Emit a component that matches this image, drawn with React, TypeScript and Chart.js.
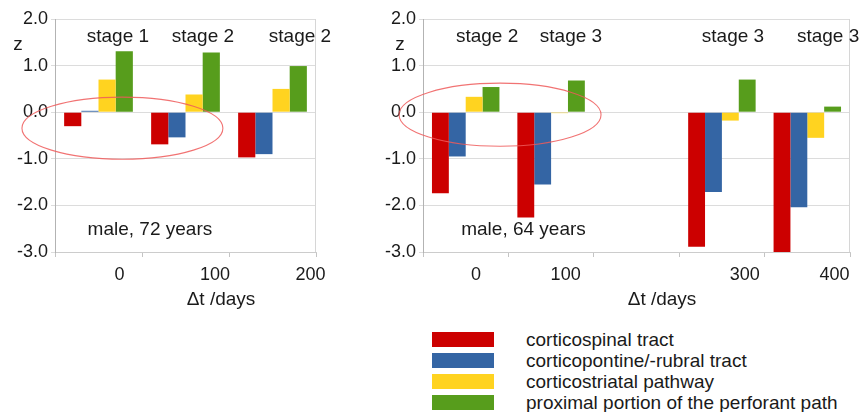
import React, { useEffect, useRef } from "react";
import { Chart, registerables } from "chart.js";

Chart.register(...registerables);

const FONT = "'Liberation Sans', Arial, sans-serif";

const seriesNames = [
  "corticospinal tract",
  "corticopontine/-rubral tract",
  "corticostriatal pathway",
  "proximal portion of the perforant path",
];
const seriesColors = ["#cc0000", "#3465a4", "#ffd320", "#579d1c"];

// Left panel: male, 72 years
const leftCategories = ["t1", "t2", "t3"];
const leftCST = [-0.3, -0.69, -0.97];
const leftCPT = [0.03, -0.54, -0.9];
const leftCSP = [0.7, 0.38, 0.5];
const leftPP = [1.31, 1.28, 0.99];
const leftDayTicks = [0, 100, 200];
const leftStages = ["stage 1", "stage 2", "stage 2"];
const leftStageDays = [-1.6, 87.4, 189];
const leftSubject = "male, 72 years";

// Right panel: male, 64 years
const rightCategories = ["t1", "t2", "", "t3", "t4"];
const rightCST = [-1.74, -2.26, null, -2.89, -3.0];
const rightCPT = [-0.95, -1.55, null, -1.71, -2.04];
const rightCSP = [0.33, -0.02, null, -0.18, -0.55];
const rightPP = [0.54, 0.68, null, 0.7, 0.12];
const rightDayTicks = [0, 100, 300, 400];
const rightStages = ["stage 2", "stage 3", "stage 3", "stage 3"];
const rightStageDays = [12.3, 106, 286.8, 392.9];
const rightSubject = "male, 64 years";

const yTitle = "z";
const xTitle = "\u0394t /days";

const annotationPlugin = {
  id: "panelAnnotations",
  afterDraw(chart: any, _args: any, opts: any) {
    const { ctx, chartArea } = chart;
    const xs = chart.scales.x2;
    const ys = chart.scales.y;
    ctx.save();
    // right border of plot
    ctx.strokeStyle = "#d6d6d6";
    ctx.lineWidth = 1;
    const rx0 = Math.round(chartArea.right) - 0.5;
    ctx.beginPath();
    ctx.moveTo(rx0, chartArea.top);
    ctx.lineTo(rx0, chartArea.bottom);
    ctx.stroke();
    // ellipse
    const e = opts.ellipse;
    if (e) {
      const cx = xs.getPixelForValue(e.cx);
      const cy = ys.getPixelForValue(e.cy);
      const rx = Math.abs(xs.getPixelForValue(e.cx + e.rx) - cx);
      const ry = Math.abs(ys.getPixelForValue(e.cy + e.ry) - cy);
      ctx.strokeStyle = "rgba(238,90,90,0.85)";
      ctx.lineWidth = 1.1;
      ctx.beginPath();
      ctx.ellipse(cx, cy, rx, ry, 0, 0, Math.PI * 2);
      ctx.stroke();
    }
    ctx.fillStyle = "#1a1a1a";
    ctx.font = `19px ${FONT}`;
    ctx.textAlign = "center";
    ctx.textBaseline = "middle";
    for (const t of opts.texts || []) {
      ctx.fillText(t.text, xs.getPixelForValue(t.x), ys.getPixelForValue(t.y));
    }
    ctx.restore();
  },
};

type PanelProps = {
  left: number;
  width: number;
  height: number;
  categories: string[];
  values: (number | null)[][];
  dayTicks: number[];
  dayMin: number;
  dayMax: number;
  yWidth: number;
  padRight: number;
  texts: { text: string; x: number; y: number }[];
  ellipse: { cx: number; cy: number; rx: number; ry: number };
};

function Panel(p: PanelProps) {
  const ref = useRef<HTMLCanvasElement | null>(null);
  useEffect(() => {
    if (!ref.current) return;
    const tickFont = { family: FONT, size: 18 };
    const chart = new Chart(ref.current, {
      type: "bar",
      data: {
        labels: p.categories,
        datasets: p.values.map((v, i) => ({
          label: seriesNames[i],
          data: v as any,
          backgroundColor: seriesColors[i],
          borderWidth: 0,
          categoryPercentage: 0.79,
          barPercentage: 1,
          xAxisID: "x",
          yAxisID: "y",
        })),
      },
      options: {
        responsive: false,
        animation: false,
        devicePixelRatio: 1,
        layout: { padding: { top: 19, right: p.padRight, left: 0, bottom: 0 } },
        plugins: {
          legend: { display: false },
          tooltip: { enabled: false },
          panelAnnotations: { texts: p.texts, ellipse: p.ellipse },
        } as any,
        scales: {
          x: {
            type: "category",
            position: "bottom",
            offset: true,
            grid: {
              display: true,
              drawOnChartArea: false,
              drawTicks: true,
              tickLength: 5,
              offset: true,
              color: "#c4c4c4",
            },
            border: { display: true, color: "#cccccc" },
            ticks: { display: false },
            afterFit: (s: any) => {
              s.height = 6;
            },
          },
          x2: {
            type: "linear",
            position: "bottom",
            offset: false,
            bounds: "data",
            min: p.dayMin,
            max: p.dayMax,
            grid: { display: false, drawTicks: false, offset: false },
            border: { display: false },
            ticks: {
              font: tickFont,
              color: "#1a1a1a",
              padding: 6,
              autoSkip: false,
              maxRotation: 0,
              callback: (v: any) => String(v),
            },
            afterBuildTicks: (s: any) => {
              s.ticks = p.dayTicks.map((v) => ({ value: v }));
            },
            afterFit: (s: any) => {
              s.height = 62;
            },
          },
          y: {
            type: "linear",
            min: -3,
            max: 2,
            ticks: {
              stepSize: 1,
              font: tickFont,
              color: "#1a1a1a",
              padding: 3,
              callback: (v: any) => Number(v).toFixed(1),
            },
            grid: { color: "#dcdcdc", tickLength: 4 },
            border: { display: true, color: "#b3b3b3" },
            afterFit: (s: any) => {
              s.width = p.yWidth;
            },
          },
        } as any,
      },
      plugins: [annotationPlugin as any],
    });
    return () => chart.destroy();
  }, []);
  return (
    <canvas
      ref={ref}
      width={p.width}
      height={p.height}
      style={{ position: "absolute", left: p.left, top: 0, width: p.width, height: p.height }}
    />
  );
}

export default function App() {
  const leftTexts = [
    ...leftStages.map((s, i) => ({ text: s, x: leftStageDays[i], y: 1.61 })),
    { text: yTitle, x: -106.3, y: 1.44 },
    { text: leftSubject, x: 31.9, y: -2.53 },
    { text: xTitle, x: 106.3, y: -4.02 },
  ];
  const rightTexts = [
    ...rightStages.map((s, i) => ({ text: s, x: rightStageDays[i], y: 1.61 })),
    { text: yTitle, x: -84.8, y: 1.44 },
    { text: rightSubject, x: 53, y: -2.53 },
    { text: xTitle, x: 207.6, y: -4.02 },
  ];
  return (
    <div
      style={{
        position: "fixed",
        left: 0,
        top: 0,
        width: 859,
        height: 412,
        background: "#ffffff",
        overflow: "hidden",
      }}
    >
      <Panel
        left={0}
        width={340}
        height={320}
        categories={leftCategories}
        values={[leftCST, leftCPT, leftCSP, leftPP]}
        dayTicks={leftDayTicks}
        dayMin={-67.5}
        dayMax={205.8}
        yWidth={55}
        padRight={24}
        texts={leftTexts}
        ellipse={{ cx: 3.1, cy: -0.343, rx: 105.2, ry: 0.666 }}
      />
      <Panel
        left={340}
        width={519}
        height={320}
        categories={rightCategories}
        values={[rightCST, rightCPT, rightCSP, rightPP]}
        dayTicks={rightDayTicks}
        dayMin={-59.2}
        dayMax={417.4}
        yWidth={83}
        padRight={9}
        texts={rightTexts}
        ellipse={{ cx: 26.8, cy: -0.054, rx: 112.7, ry: 0.677 }}
      />
      <div style={{ position: "absolute", left: 432, top: 332, fontFamily: FONT }}>
        {seriesNames.map((n, i) => (
          <div
            key={n}
            style={{ display: "flex", alignItems: "center", height: 15, marginBottom: 6.1 }}
          >
            <div style={{ width: 62, height: 15, background: seriesColors[i], flex: "0 0 auto" }} />
            <div
              style={{
                marginLeft: 32,
                fontSize: 19,
                lineHeight: "15px",
                color: "#1a1a1a",
                whiteSpace: "nowrap",
              }}
            >
              {n}
            </div>
          </div>
        ))}
      </div>
    </div>
  );
}
